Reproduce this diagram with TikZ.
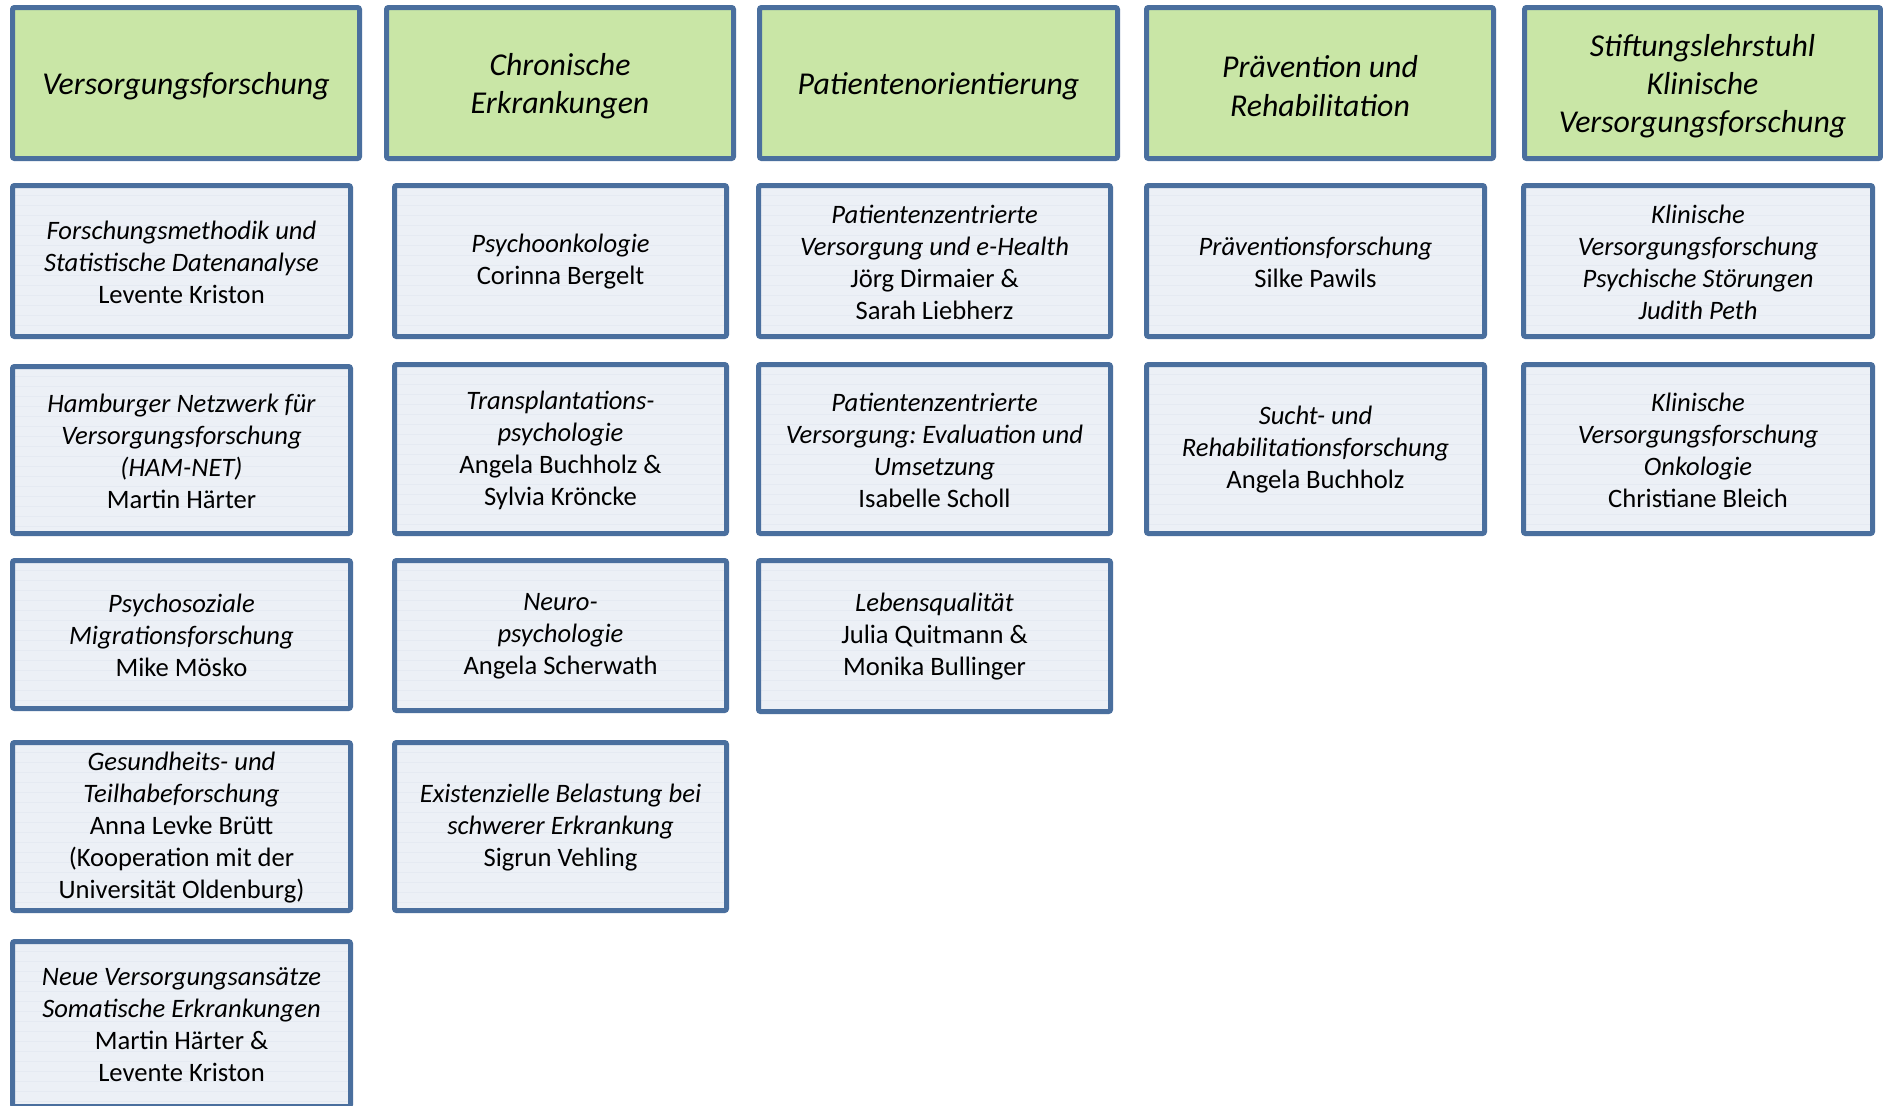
\documentclass[tikz,border=0pt]{standalone}
\usepackage{fontspec}
\setmainfont{Carlito}
\frenchspacing
\definecolor{bord}{RGB}{74,111,158}
\definecolor{hfill}{RGB}{201,230,166}
\definecolor{sfill}{RGB}{236,240,246}
\definecolor{sline}{RGB}{229,234,242}
\newcommand{\mybox}[8]{%
  \node[#1, minimum width={(#5-#3-5)*0.5pt}, minimum height={(#6-#4-5)*0.5pt}]
    (#2) at ({(#3+#5)/2},{(#4+#6)/2}) {};
  \node[#1text] (#2-t) at ([yshift=-#8]#2.center) {#7};}
\begin{document}
\begin{tikzpicture}[x=0.5pt,y=-0.5pt,
  hdr/.style={draw=bord, line width=2.5pt, fill=hfill, rounded corners=1pt, inner sep=0pt},
  hdrtext/.style={align=center, inner sep=0pt, font=\fontsize{15.9}{19.2}\selectfont\itshape},
  sub/.style={draw=bord, line width=2.5pt, fill=sfill, rounded corners=1pt, inner sep=0pt,
    path picture={\foreach \k in {0,5,...,100}{\draw[sline, line width=0.35pt]
      ([yshift=-\k pt]path picture bounding box.north west) --
      ([yshift=-\k pt]path picture bounding box.north east);}}},
  subtext/.style={align=center, inner sep=0pt, font=\fontsize{13.3}{16}\selectfont}]
\useasboundingbox (0,0) rectangle (1883,1105);
\clip (0,0) rectangle (1883,1105);
\fill[white] (0,0) rectangle (1883,1105);
% headers
\mybox{hdr}{h1}{10}{5}{362}{161}{Versorgungsforschung}{1.6pt}
\mybox{hdr}{h2}{384}{5}{736}{161}{Chronische\\Erkrankungen}{1.6pt}
\mybox{hdr}{h3}{757}{5}{1120}{161}{Patientenorientierung}{1.6pt}
\mybox{hdr}{h4}{1144}{5}{1496}{161}{Prävention und\\Rehabilitation}{1.6pt}
\mybox{hdr}{h5}{1522}{5}{1883}{161}{Stiftungslehrstuhl\\Klinische\\Versorgungsforschung}{1.6pt}
% column 1
\mybox{sub}{a1}{10}{183}{353}{339}{\textit{Forschungsmethodik und}\\\textit{Statistische Datenanalyse}\\Levente Kriston}{0.5pt}
\mybox{sub}{a2}{10}{364}{353}{536}{\textit{Hamburger Netzwerk für}\\\textit{Versorgungsforschung}\\\textit{(HAM-NET)}\\Martin Härter}{0.5pt}
\mybox{sub}{a3}{10}{558}{353}{711}{\textit{Psychosoziale}\\\textit{Migrationsforschung}\\Mike Mösko}{0.5pt}
\mybox{sub}{a4}{10}{740}{353}{913}{\textit{Gesundheits- und}\\\textit{Teilhabeforschung}\\Anna Levke Brütt\\(Kooperation mit der\\Universität Oldenburg)}{0.5pt}
\mybox{sub}{a5}{10}{939}{353}{1109}{\textit{Neue Versorgungsansätze}\\\textit{Somatische Erkrankungen}\\Martin Härter \&\\Levente Kriston}{0.5pt}
% column 2
\mybox{sub}{b1}{392}{183}{729}{339}{\textit{Psychoonkologie}\\Corinna Bergelt}{0.5pt}
\mybox{sub}{b2}{392}{362}{729}{536}{\textit{Transplantations-}\\\textit{psychologie}\\Angela Buchholz \&\\Sylvia Kröncke}{0.5pt}
\mybox{sub}{b3}{392}{558}{729}{713}{\textit{Neuro-}\\\textit{psychologie}\\Angela Scherwath}{0.5pt}
\mybox{sub}{b4}{392}{740}{729}{913}{\textit{Existenzielle Belastung bei}\\\textit{schwerer Erkrankung}\\Sigrun Vehling}{0.5pt}
% column 3
\mybox{sub}{c1}{756}{183}{1113}{339}{\textit{Patientenzentrierte}\\\textit{Versorgung und e-Health}\\Jörg Dirmaier \&\\Sarah Liebherz}{0.5pt}
\mybox{sub}{c2}{756}{362}{1113}{536}{\textit{Patientenzentrierte}\\\textit{Versorgung: Evaluation und}\\\textit{Umsetzung}\\Isabelle Scholl}{0.5pt}
\mybox{sub}{c3}{756}{558}{1113}{714}{\textit{Lebensqualität}\\Julia Quitmann \&\\Monika Bullinger}{0.5pt}
% column 4
\mybox{sub}{d1}{1144}{183}{1487}{339}{\textit{Präventionsforschung}\\Silke Pawils}{0.5pt}
\mybox{sub}{d2}{1144}{362}{1487}{536}{\textit{Sucht- und}\\\textit{Rehabilitationsforschung}\\Angela Buchholz}{0.5pt}
% column 5
\mybox{sub}{e1}{1521}{183}{1875}{339}{\textit{Klinische}\\\textit{Versorgungsforschung}\\\textit{Psychische Störungen}\\\textit{Judith Peth}}{0.5pt}
\mybox{sub}{e2}{1521}{362}{1875}{536}{\textit{Klinische}\\\textit{Versorgungsforschung}\\\textit{Onkologie}\\Christiane Bleich}{0.5pt}
\end{tikzpicture}
\end{document}
